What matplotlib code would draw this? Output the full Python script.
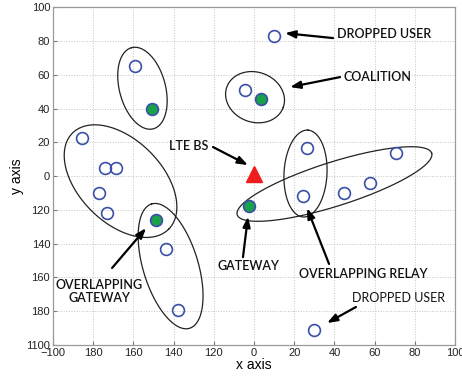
import matplotlib
matplotlib.use("Agg")
import numpy as np
import matplotlib.pyplot as plt

# ---- data ----
users_x = [10, -4.5, -59, -85.5, -74, -68.5, -77, -73, -44, -38, 24.5, 45, 57.5, 26.5, 70.5, 30]
users_y = [83, 51, 65, 22.5, 5, 5, -10, -22, -43, -79, -11.5, -10, -4, 16.5, 13.5, -91]
gw_x = [3.5, -51, -48.8, -2.5]
gw_y = [45.5, 39.5, -26, -17.5]
bs_x = [0]
bs_y = [1]

# coalition ellipses: center (data), semi-axes (screen px), angle (screen deg)
ell_cx = [-55.5, 0.5, -66.4, -41.5, 25.6, 40]
ell_cy = [52, 46.7, -3, -53.3, 1.5, -4.7]
ell_a = [42, 30, 68, 65, 43.5, 102]
ell_b = [23, 25, 41.5, 27.5, 21.5, 22]
ell_ang = [105, -20, -45, 107, 87, 17.6]

xticks = [-100, -80, -60, -40, -20, 0, 20, 40, 60, 80, 100]
xticklabels = ['\u2212100', '180', '160', '140', '120', '0', '20', '40', '60', '80', '100']
yticks = [-100, -80, -60, -40, -20, 0, 20, 40, 60, 80, 100]
yticklabels = ['1100', '180', '160', '140', '120', '0', '20', '40', '60', '80', '100']

# annotations: text, text pos, arrow tail, arrow head
ann_text = ['DROPPED USER', 'COALITION', 'LTE BS', 'OVERLAPPING\nGATEWAY', 'GATEWAY',
            'OVERLAPPING RELAY', 'DROPPED USER']
ann_tx = [64.7, 61.4, -32.3, -77, -2.7, 54.2, 71.9]
ann_ty = [84, 58.5, 17.8, -68.3, -53.3, -58, -72.2]
arr_x0 = [39.3, 42.8, -20.4, -70.6, -5.5, 37.3, 50.7]
arr_y0 = [81.7, 58.6, 17.2, -54.4, -48, -52, -77.5]
arr_x1 = [15.4, 17.9, -3, -53.7, -3, 26.4, 36.3]
arr_y1 = [84.6, 52.7, 6.5, -30.8, -24, -19, -87]
ann_weight = ['semibold', 'semibold', 'semibold', 'semibold', 'semibold', 'semibold', 'normal']

W, H = 462, 377
fig = plt.figure(figsize=(W / 100, H / 100), dpi=100)
pos = [0.1147, 0.0849, 0.8703, 0.8961]
ax = fig.add_axes(pos)
ax.set_xlim(-100, 100)
ax.set_ylim(-100, 100)
sx = pos[2] * W / 200.0   # screen px per data unit
sy = pos[3] * H / 200.0

blue = '#3a4fa8'
ax.plot(users_x, users_y, 'o', ls='none', mfc='none', mec=blue, ms=8.5, mew=1.2, zorder=3)
ax.plot(gw_x, gw_y, 'o', ls='none', mfc='#1aa24a', mec=blue, ms=8.5, mew=1.2, zorder=3)
ax.plot(bs_x, bs_y, '^', ls='none', color='#ee1c1c', ms=11, zorder=3)

t = np.linspace(0, 2 * np.pi, 300)
for cx, cy, a, b, ang in zip(ell_cx, ell_cy, ell_a, ell_b, ell_ang):
    phi = np.deg2rad(ang)
    u = a * np.cos(t)
    v = b * np.sin(t)
    ex = cx + (u * np.cos(phi) - v * np.sin(phi)) / sx
    ey = cy + (u * np.sin(phi) + v * np.cos(phi)) / sy
    ax.plot(ex, ey, color='#222222', lw=0.9, zorder=2)

font = ['Lato', 'Liberation Sans', 'DejaVu Sans']
for txt, tx, ty, wt in zip(ann_text, ann_tx, ann_ty, ann_weight):
    ax.text(tx, ty, txt, ha='center', va='center', fontsize=9, family=font, color='#111111',
            fontweight=wt, linespacing=1.15, zorder=4)
for x0, y0, x1, y1 in zip(arr_x0, arr_y0, arr_x1, arr_y1):
    ax.annotate('', xy=(x1, y1), xytext=(x0, y0),
                arrowprops=dict(arrowstyle='-|>,head_length=0.6,head_width=0.22', color='black',
                                lw=1.6, shrinkA=0, shrinkB=0), zorder=4)

ax.set_xticks(xticks)
ax.set_xticklabels(xticklabels)
ax.set_yticks(yticks)
ax.set_yticklabels(yticklabels)
ax.tick_params(direction='in', length=3, color='#777777', labelcolor='#222222', labelsize=8, pad=2)
for lab in ax.get_xticklabels() + ax.get_yticklabels():
    lab.set_family(['Liberation Sans', 'DejaVu Sans'])
ax.grid(True, ls=':', color='#c4c4c4', lw=0.7)
for s in ax.spines.values():
    s.set_color('#999999')
    s.set_linewidth(0.9)
ax.set_xlabel('x axis', fontsize=10, family=['Liberation Sans', 'DejaVu Sans'], labelpad=0)
ax.set_ylabel('y axis', fontsize=10, family=['Liberation Sans', 'DejaVu Sans'], labelpad=2)

fig.savefig('out.png', dpi=100)
